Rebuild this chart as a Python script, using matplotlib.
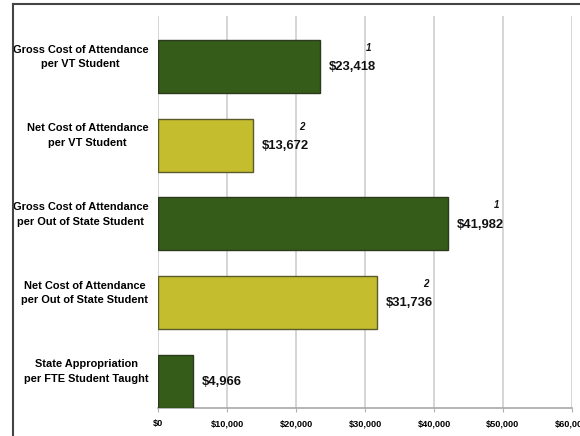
import matplotlib.pyplot as plt
import matplotlib.transforms as mtransforms
from matplotlib.lines import Line2D

categories = [
    "Gross Cost of Attendance\nper VT Student",
    "Net Cost of Attendance\nper VT Student",
    "Gross Cost of Attendance\nper Out of State Student",
    "Net Cost of Attendance\nper Out of State Student",
    "State Appropriation\nper FTE Student Taught",
]
values = [23418, 13672, 41982, 31736, 4966]
notes = ["1", "2", "1", "2", ""]
kinds = ["gross", "net", "gross", "net", "gross"]
xticks = [0, 10000, 20000, 30000, 40000, 50000, 60000]

colors = {"gross": "#365c19", "net": "#c4be2e"}
edges = {"gross": "#2b3a1c", "net": "#5a5a2a"}

plt.rcParams["font.family"] = ["Liberation Sans", "DejaVu Sans"]
plt.rcParams["font.weight"] = "bold"

fig = plt.figure(figsize=(5.8, 4.36), dpi=100)
ax = fig.add_axes([0.273, 0.0642, 0.7128, 0.8991])

pos = list(range(len(values)))
for p, v, k in zip(pos, values, kinds):
    ax.barh(p, v, height=0.674, color=colors[k], edgecolor=edges[k], linewidth=1, zorder=3)

ax.set_xlim(0, 60000)
ax.set_ylim(4.343, -0.642)

# value labels and footnote marks
for p, v, n in zip(pos, values, notes):
    off = mtransforms.offset_copy(ax.transData, fig=fig, x=6.5, y=0, units="points")
    t = ax.text(v, p + 0.01, f"${v:,}", transform=off, ha="left", va="center",
                fontsize=9.4, fontweight="bold", color="#111111", zorder=4)
    if n:
        ax.annotate(n, xy=(1, 1), xycoords=t, xytext=(-3, 6), textcoords="offset points",
                    ha="right", va="bottom", fontsize=7, fontweight="bold",
                    style="italic", color="#111111", zorder=4)

# category labels
lbl = mtransforms.blended_transform_factory(ax.transAxes, ax.transData)
for p, c in zip(pos, categories):
    ax.text(-0.024, p - 0.12, c, transform=lbl, ha="right", va="center",
            multialignment="center", fontsize=7.9, fontweight="bold", linespacing=1.6)

ax.set_yticks([])
ax.set_xticks(xticks)
ax.set_xticklabels([f"${t:,}" for t in xticks], fontsize=6.6, fontweight="bold")
ax.tick_params(axis="x", length=3, color="#b0b0b0", pad=5)
ax.grid(axis="x", color="#d2d2d2", linewidth=1.3, zorder=0)
for s in ["top", "right", "left"]:
    ax.spines[s].set_visible(False)
ax.spines["bottom"].set_color("#a8a8a8")
ax.spines["bottom"].set_linewidth(1.2)

# outer frame (cut off at right and bottom)
fig.add_artist(Line2D([0.0224, 0.0224], [0, 0.9908], transform=fig.transFigure,
                      color="#444444", linewidth=1.5))
fig.add_artist(Line2D([0.0224, 1.0], [0.9908, 0.9908], transform=fig.transFigure,
                      color="#444444", linewidth=1.5))

fig.savefig("out.png", dpi=100)
